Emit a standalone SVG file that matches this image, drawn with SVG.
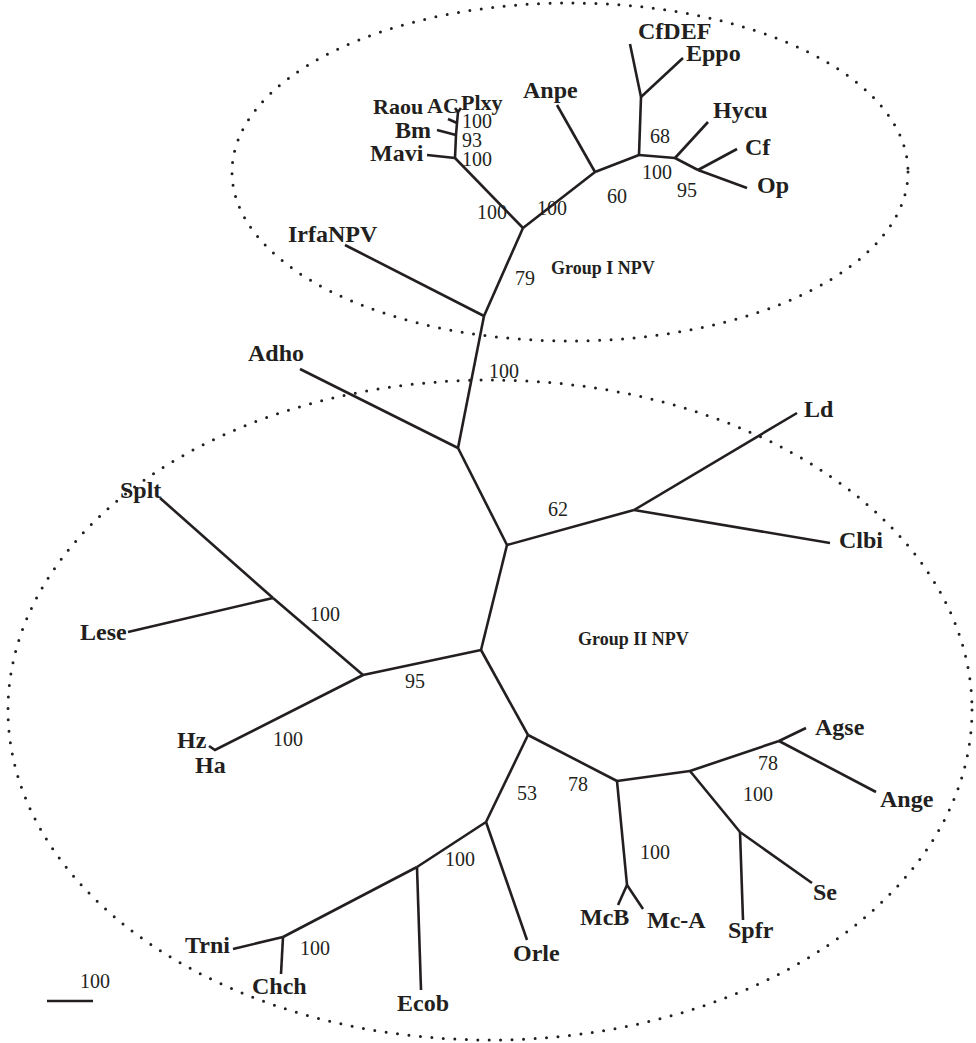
<svg xmlns="http://www.w3.org/2000/svg" width="976" height="1043" viewBox="0 0 976 1043">
<style>
.bg{fill:#ffffff}
.e{fill:none;stroke:#231f20;stroke-width:3;stroke-dasharray:0 11.5;stroke-linecap:round}
.c line,.c path{stroke:#231f20;stroke-width:2.6;fill:none;stroke-linecap:butt;stroke-linejoin:miter}
.t{font-family:"Liberation Serif","Times New Roman",serif;font-weight:bold;font-size:24px;fill:#231f20}
.s{font-size:22px}
.b{font-family:"Liberation Serif","Times New Roman",serif;font-size:20px;fill:#231f20}
.g{font-family:"Liberation Serif","Times New Roman",serif;font-weight:bold;font-size:18px;fill:#231f20}
</style>
<rect class="bg" x="0" y="0" width="976" height="1043"/>
<g id="groups">
<ellipse class="e" cx="570" cy="172" rx="338" ry="169"/>
<ellipse class="e" cx="490" cy="710" rx="482" ry="330"/>
<text class="g" x="551" y="274">Group I NPV</text>
<text class="g" x="578" y="645">Group II NPV</text>
</g>
<g id="connectors" class="c">
<line x1="484" y1="316" x2="345" y2="245"/>
<line x1="484" y1="316" x2="523" y2="228"/>
<line x1="523" y1="228" x2="455" y2="158"/>
<line x1="455" y1="158" x2="427" y2="155"/>
<path d="M455,158 L456,135 L457,123 L458,112"/>
<line x1="437" y1="130" x2="456" y2="135"/>
<line x1="448" y1="119" x2="457" y2="123"/>
<path d="M455,108 L458,112 L461,108"/>
<line x1="523" y1="228" x2="595" y2="172"/>
<line x1="595" y1="172" x2="557" y2="105"/>
<line x1="595" y1="172" x2="639" y2="155"/>
<line x1="639" y1="155" x2="641" y2="97"/>
<line x1="641" y1="97" x2="630" y2="44"/>
<line x1="641" y1="97" x2="683" y2="58"/>
<line x1="639" y1="155" x2="675" y2="158"/>
<line x1="675" y1="158" x2="708" y2="122"/>
<line x1="675" y1="158" x2="698" y2="170"/>
<line x1="698" y1="170" x2="737" y2="149"/>
<line x1="698" y1="170" x2="747" y2="188"/>
<line x1="484" y1="316" x2="458" y2="448"/>
<line x1="458" y1="448" x2="300" y2="369"/>
<line x1="458" y1="448" x2="507" y2="545"/>
<line x1="507" y1="545" x2="634" y2="510"/>
<line x1="634" y1="510" x2="797" y2="413"/>
<line x1="634" y1="510" x2="830" y2="543"/>
<line x1="507" y1="545" x2="481" y2="650"/>
<line x1="481" y1="650" x2="363" y2="675"/>
<line x1="363" y1="675" x2="273" y2="598"/>
<line x1="273" y1="598" x2="160" y2="498"/>
<line x1="273" y1="598" x2="128" y2="632"/>
<path d="M363,675 L215,750 L209,746"/>
<line x1="481" y1="650" x2="528" y2="735"/>
<line x1="528" y1="735" x2="486" y2="822"/>
<line x1="486" y1="822" x2="527" y2="940"/>
<line x1="486" y1="822" x2="417" y2="867"/>
<line x1="417" y1="867" x2="421" y2="990"/>
<line x1="417" y1="867" x2="283" y2="937"/>
<line x1="283" y1="937" x2="233" y2="949"/>
<line x1="283" y1="937" x2="281" y2="974"/>
<line x1="528" y1="735" x2="617" y2="781"/>
<line x1="617" y1="781" x2="627" y2="885"/>
<line x1="627" y1="885" x2="618" y2="905"/>
<line x1="627" y1="885" x2="643" y2="909"/>
<line x1="617" y1="781" x2="690" y2="771"/>
<line x1="690" y1="771" x2="779" y2="741"/>
<line x1="779" y1="741" x2="806" y2="728"/>
<line x1="779" y1="741" x2="876" y2="792"/>
<line x1="690" y1="771" x2="740" y2="832"/>
<line x1="740" y1="832" x2="743" y2="920"/>
<line x1="740" y1="832" x2="812" y2="883"/>
</g>
<g id="bootstrap">
<text class="b" x="462" y="128">100</text>
<text class="b" x="462" y="147">93</text>
<text class="b" x="462" y="166">100</text>
<text class="b" x="477" y="219">100</text>
<text class="b" x="537" y="215">100</text>
<text class="b" x="607" y="203">60</text>
<text class="b" x="642" y="179">100</text>
<text class="b" x="650" y="143">68</text>
<text class="b" x="677" y="197">95</text>
<text class="b" x="515" y="285">79</text>
<text class="b" x="489" y="378">100</text>
<text class="b" x="548" y="516">62</text>
<text class="b" x="310" y="621">100</text>
<text class="b" x="405" y="688">95</text>
<text class="b" x="273" y="746">100</text>
<text class="b" x="517" y="800">53</text>
<text class="b" x="568" y="791">78</text>
<text class="b" x="445" y="866">100</text>
<text class="b" x="300" y="955">100</text>
<text class="b" x="640" y="859">100</text>
<text class="b" x="758" y="770">78</text>
<text class="b" x="743" y="801">100</text>
</g>
<g id="scale">
<line x1="47" y1="1001" x2="93" y2="1001" stroke="#231f20" stroke-width="2.6"/>
<text class="b" x="80" y="988">100</text>
</g>
<g id="n-Raou"><text class="t s" x="373" y="114">Raou</text></g>
<g id="n-AC"><text class="t s" x="427" y="113">AC</text></g>
<g id="n-Plxy"><text class="t s" x="461" y="110">Plxy</text></g>
<g id="n-Bm"><text class="t" x="395" y="138">Bm</text></g>
<g id="n-Mavi"><text class="t" x="370" y="161">Mavi</text></g>
<g id="n-IrfaNPV"><text class="t" x="288" y="242">IrfaNPV</text></g>
<g id="n-Anpe"><text class="t" x="523" y="98">Anpe</text></g>
<g id="n-CfDEF"><text class="t" x="638" y="39">CfDEF</text></g>
<g id="n-Eppo"><text class="t" x="686" y="61">Eppo</text></g>
<g id="n-Hycu"><text class="t" x="713" y="118">Hycu</text></g>
<g id="n-Cf"><text class="t" x="745" y="155">Cf</text></g>
<g id="n-Op"><text class="t" x="757" y="193">Op</text></g>
<g id="n-Adho"><text class="t" x="248" y="361">Adho</text></g>
<g id="n-Ld"><text class="t" x="804" y="417">Ld</text></g>
<g id="n-Clbi"><text class="t" x="839" y="548">Clbi</text></g>
<g id="n-Splt"><text class="t" x="120" y="498">Splt</text></g>
<g id="n-Lese"><text class="t" x="80" y="640">Lese</text></g>
<g id="n-Hz"><text class="t" x="177" y="748">Hz</text></g>
<g id="n-Ha"><text class="t" x="195" y="773">Ha</text></g>
<g id="n-Trni"><text class="t" x="185" y="953">Trni</text></g>
<g id="n-Chch"><text class="t" x="252" y="994">Chch</text></g>
<g id="n-Ecob"><text class="t" x="397" y="1011">Ecob</text></g>
<g id="n-Orle"><text class="t" x="513" y="961">Orle</text></g>
<g id="n-McB"><text class="t" x="580" y="925">McB</text></g>
<g id="n-Mc-A"><text class="t" x="647" y="928">Mc-A</text></g>
<g id="n-Spfr"><text class="t" x="728" y="938">Spfr</text></g>
<g id="n-Se"><text class="t" x="813" y="900">Se</text></g>
<g id="n-Agse"><text class="t" x="815" y="735">Agse</text></g>
<g id="n-Ange"><text class="t" x="880" y="807">Ange</text></g>
</svg>
